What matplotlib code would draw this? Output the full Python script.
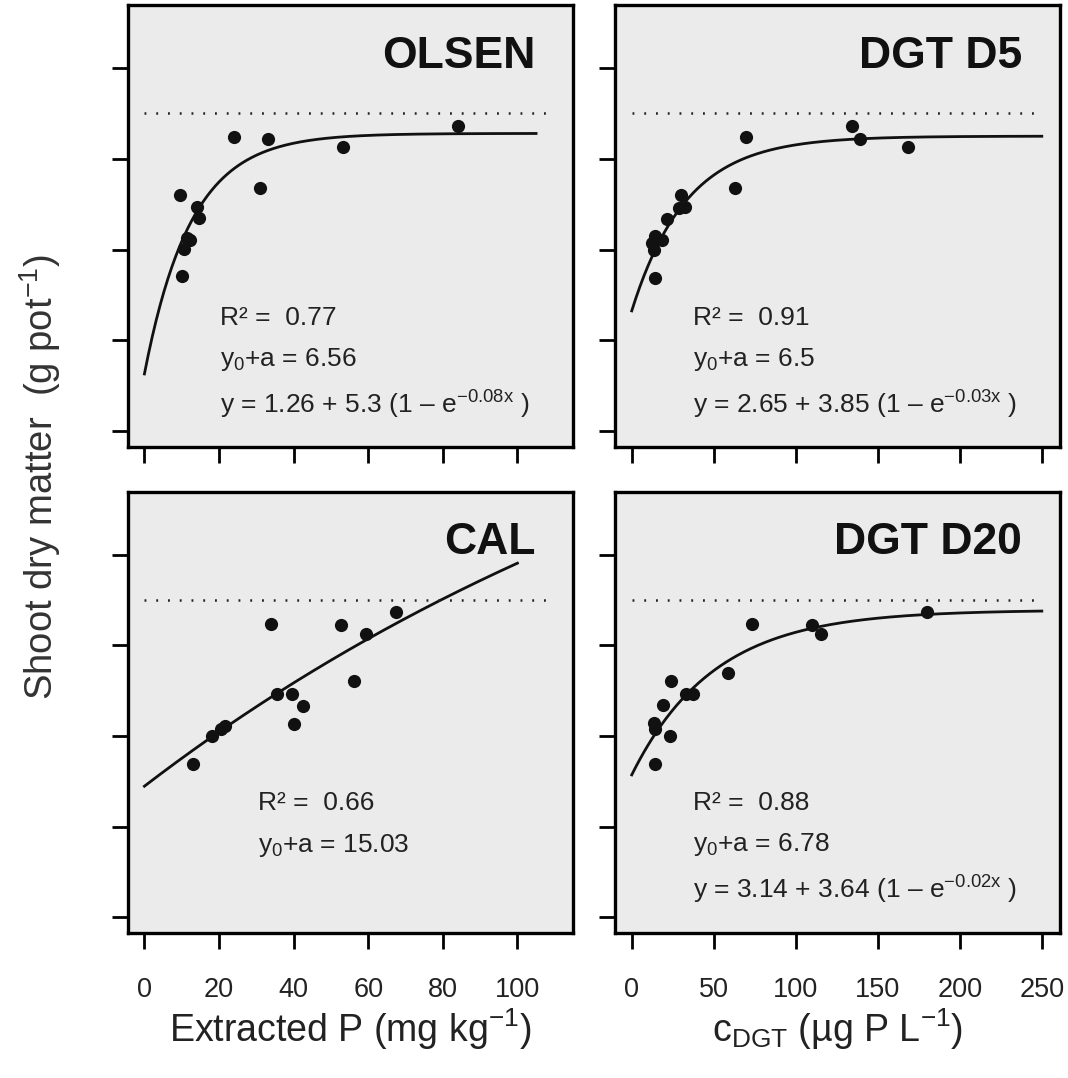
import numpy as np
import matplotlib
matplotlib.use("Agg")
import matplotlib.pyplot as plt
from matplotlib import font_manager

plt.rcParams['font.family'] = ['Liberation Sans', 'DejaVu Sans']
plt.rcParams['mathtext.fontset'] = 'custom'
plt.rcParams['mathtext.rm'] = 'Liberation Sans'
plt.rcParams['mathtext.it'] = 'Liberation Sans:italic'
plt.rcParams['mathtext.bf'] = 'Liberation Sans:bold'

# schmale Schrift fuer die Achsenzahlen, falls vorhanden
try:
    font_manager.findfont('Liberation Sans Narrow', fallback_to_default=False)
    narrow = 'Liberation Sans Narrow'
except Exception:
    narrow = 'Liberation Sans'

olsen_x = [9.6, 14.0, 14.7, 11.4, 12.3, 10.6, 10.0, 31.0, 24.1, 33.2, 53.2, 84.0]
olsen_y = [5.21, 4.93, 4.69, 4.26, 4.22, 4.02, 3.42, 5.36, 6.48, 6.44, 6.26, 6.73]

d5_x = [29.9, 29.0, 32.5, 21.3, 14.2, 18.3, 12.2, 13.8, 14.2, 63.0, 69.5, 134.5, 139.2, 168.7]
d5_y = [5.21, 4.91, 4.93, 4.68, 4.29, 4.22, 4.15, 4.00, 3.38, 5.36, 6.48, 6.73, 6.44, 6.26]

cal_x = [13.1, 18.1, 20.5, 21.5, 35.5, 39.5, 42.4, 40.1, 33.9, 52.6, 59.4, 67.4, 56.2]
cal_y = [3.37, 4.00, 4.15, 4.22, 4.92, 4.92, 4.67, 4.27, 6.48, 6.44, 6.26, 6.74, 5.22]

d20_x = [14.4, 14.2, 13.6, 23.4, 19.3, 24.0, 33.1, 37.6, 58.9, 73.5, 110.1, 115.4, 179.9]
d20_y = [3.37, 4.15, 4.29, 4.00, 4.68, 5.22, 4.92, 4.92, 5.38, 6.48, 6.44, 6.26, 6.74]

# Modellparameter y = y0 + a (1 - exp(-b x))
olsen_fit = (1.26, 5.3, 0.08)
d5_fit = (2.65, 3.85, 0.03)
cal_fit = (2.89, 12.14, 0.0052)
d20_fit = (3.14, 3.64, 0.02)

x_ticks_extr = [0, 20, 40, 60, 80, 100]
x_ticks_dgt = [0, 50, 100, 150, 200, 250]
y_ticks = [0, 2, 4, 6, 8]
ref_line = 7

W, H = 1068, 1078
fig = plt.figure(figsize=(W / 100, H / 100), dpi=100)
bg = '#ebebeb'


def panel(rect, xs, ys, fit, xmax, xlim, xticks, title, lines, tx, ty, show_xlabels):
    ax = fig.add_axes(rect)
    ax.set_facecolor(bg)
    for s in ax.spines.values():
        s.set_linewidth(2.4)
    xx = np.linspace(0, xmax, 300)
    y0, a, b = fit
    ax.plot(xx, y0 + a * (1 - np.exp(-b * xx)), color='#111111', lw=2.0)
    ax.plot(xs, ys, 'o', color='#111111', ms=9.5, mec='none')
    ax.hlines(ref_line, 0, xlim[1] - 0.04 * (xlim[1] - xlim[0]), colors='#222222',
              linestyles=(0, (0.75, 3.95)), lw=1.8)
    ax.set_xlim(xlim)
    ax.set_ylim(-0.35, 9.39)
    ax.set_xticks(xticks)
    ax.set_yticks(y_ticks)
    ax.set_yticklabels([])
    if show_xlabels:
        ax.set_xticklabels([str(t) for t in xticks], fontfamily=narrow, fontsize=19.5)
    else:
        ax.set_xticklabels([])
    ax.tick_params(direction='out', length=11.5, width=2, pad=20, labelcolor='#222222')
    ax.text(0.915, 0.858, title, transform=ax.transAxes, ha='right', va='baseline',
            fontsize=32, fontweight='bold', color='#111111')
    for txt, yy in zip(lines, ty):
        ax.text(tx, yy, txt, transform=ax.transAxes, ha='left', va='baseline',
                fontsize=19, color='#222222')
    return ax


left1, right1 = 128 / W, 573 / W
left2, right2 = 615 / W, 1060 / W
top1, bot1 = 1 - 5 / H, 1 - 447 / H
top2, bot2 = 1 - 491.7 / H, 1 - 933 / H

panel([left1, bot1, right1 - left1, top1 - bot1], olsen_x, olsen_y, olsen_fit, 105,
      (-4.4, 114.9), x_ticks_extr, 'OLSEN',
      ['R² =  0.77', 'y$_0$+a = 6.56', 'y = 1.26 + 5.3 (1 – e$^{-0.08\\mathrm{x}}$ )'],
      0.207, [0.276, 0.184, 0.076], False)
panel([left2, bot1, right2 - left2, top1 - bot1], d5_x, d5_y, d5_fit, 250,
      (-10.2, 261.1), x_ticks_dgt, 'DGT D5',
      ['R² =  0.91', 'y$_0$+a = 6.5', 'y = 2.65 + 3.85 (1 – e$^{-0.03\\mathrm{x}}$ )'],
      0.176, [0.276, 0.184, 0.076], False)
panel([left1, bot2, right1 - left1, top2 - bot2], cal_x, cal_y, cal_fit, 100,
      (-4.4, 114.9), x_ticks_extr, 'CAL',
      ['R² =  0.66', 'y$_0$+a = 15.03'],
      0.293, [0.279, 0.184], True)
panel([left2, bot2, right2 - left2, top2 - bot2], d20_x, d20_y, d20_fit, 250,
      (-10.2, 261.1), x_ticks_dgt, 'DGT D20',
      ['R² =  0.88', 'y$_0$+a = 6.78', 'y = 3.14 + 3.64 (1 – e$^{-0.02\\mathrm{x}}$ )'],
      0.176, [0.279, 0.186, 0.079], True)

# Achsentitel
fig.text((128 + 573) / 2 / W, 1 - 1042 / H, 'Extracted P (mg kg$^{-1}$)', ha='center',
         va='baseline', fontsize=27, color='#222222')
fig.text((615 + 1060) / 2 / W, 1 - 1042 / H, 'c$_{\\rm DGT}$ (µg P L$^{-1}$)', ha='center',
         va='baseline', fontsize=27, color='#222222')
fig.text(40 / W, 1 - 477 / H, 'Shoot dry matter  (g pot$^{-1}$)', rotation=90, ha='center',
         va='center', fontsize=27.5, color='#333333')

fig.savefig('out.png', dpi=100)
